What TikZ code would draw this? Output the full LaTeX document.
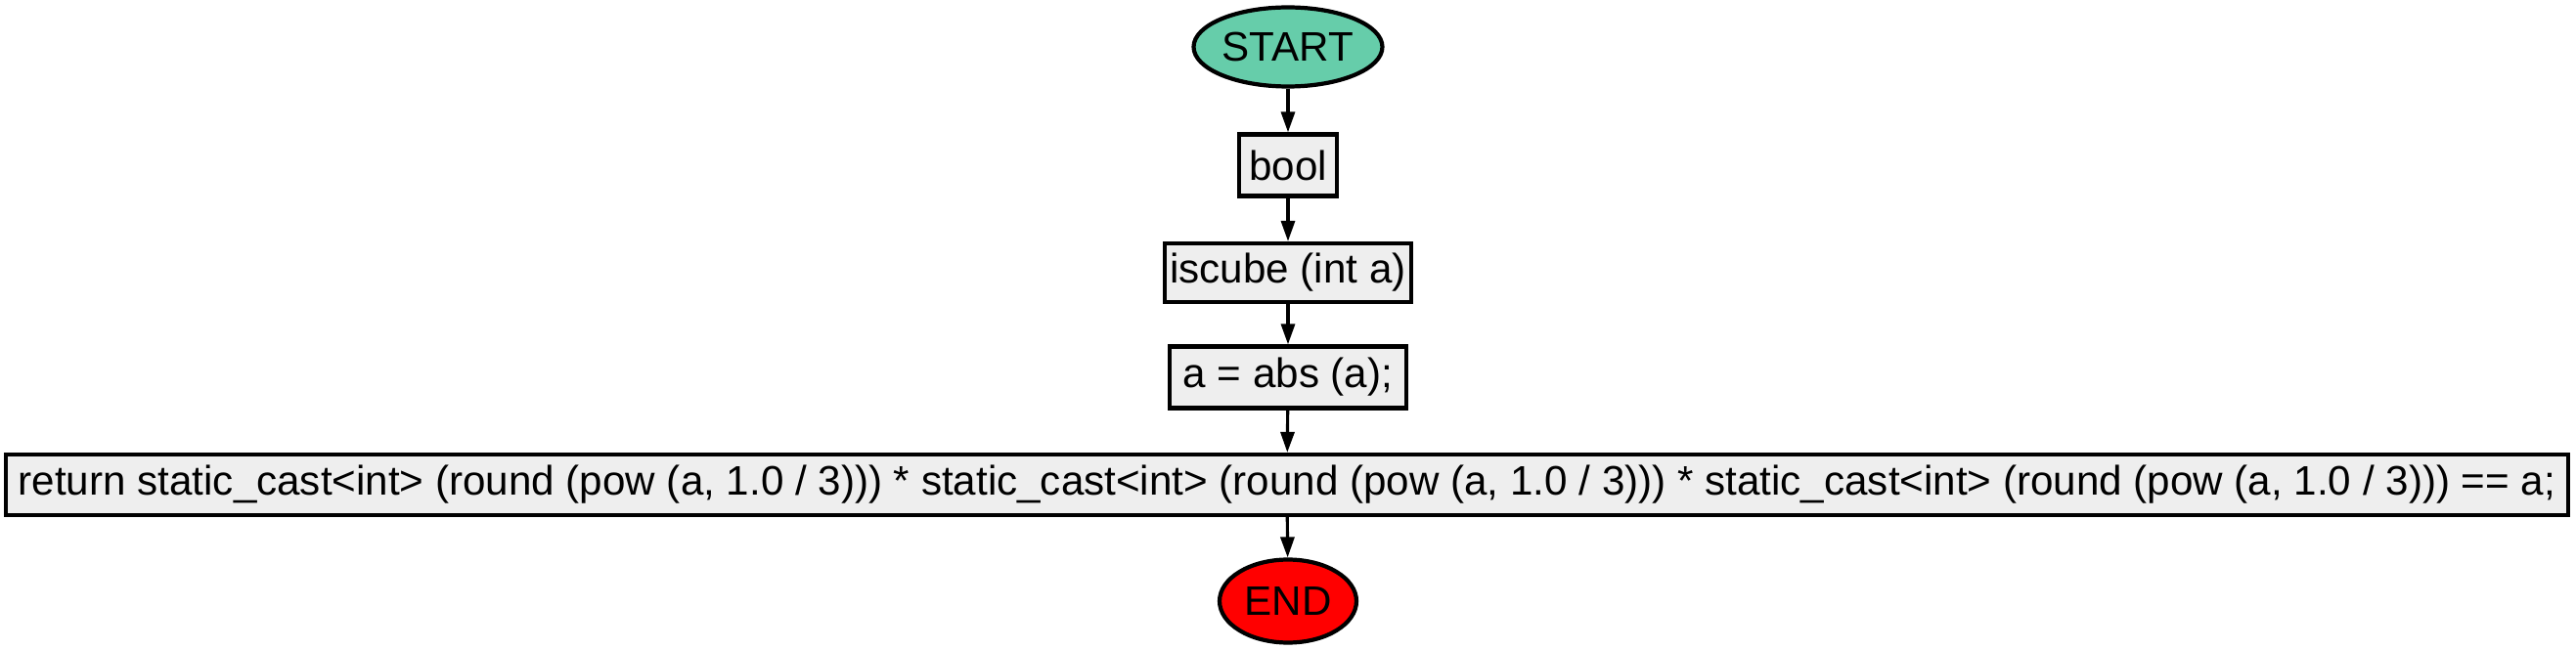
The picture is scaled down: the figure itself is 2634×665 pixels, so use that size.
\documentclass[tikz,border=0pt]{standalone}
\usepackage{fontspec}
\setmainfont{Liberation Sans}
\usetikzlibrary{arrows.meta}
\usetikzlibrary{shapes.geometric}
\definecolor{startgreen}{RGB}{102,205,170}
\definecolor{stepgray}{RGB}{238,238,238}
\tikzstyle{terminal}=[ellipse, draw, line width=2.4pt, inner sep=0pt, font=\fontsize{24}{28}\selectfont]
\tikzstyle{stmt}=[rectangle, draw, line width=2.4pt, fill=stepgray, inner sep=0pt, font=\fontsize{24}{28}\selectfont]
\tikzstyle{flow}=[line width=1.8pt, -{Triangle[length=0.42cm, width=0.28cm]}]

\begin{document}
\begin{tikzpicture}[x=0.02cm, y=-0.02cm]
  \useasboundingbox (0, 0) rectangle (2634, 665);
  \node[terminal, fill=startgreen, minimum width=3.86cm, minimum height=1.62cm]
    (start) at (1317, 48) {START};
  \node[stmt, minimum width=2.0cm, minimum height=1.26cm]
    (ret) at (1317, 169) {bool};
  \node[stmt, minimum width=5.04cm, minimum height=1.2cm]
    (sig) at (1317, 279) {iscube (int a)};
  \node[stmt, minimum width=4.84cm, minimum height=1.26cm]
    (absa) at (1317, 386) {a = abs (a);};
  \node[stmt, minimum width=52.42cm, minimum height=1.24cm]
    (cube) at (1316, 496)
    {return static\_cast<int> (round (pow (a, 1.0 / 3))) * static\_cast<int> (round (pow (a, 1.0 / 3))) * static\_cast<int> (round (pow (a, 1.0 / 3))) == a;};
  \node[terminal, fill=red, minimum width=2.8cm, minimum height=1.7cm]
    (finish) at (1317, 615) {END};
  \draw[flow] (start) -- (ret);
  \draw[flow] (ret) -- (sig);
  \draw[flow] (sig) -- (absa);
  \draw[flow] (absa) -- (cube);
  \draw[flow] (cube) -- (finish);
\end{tikzpicture}
\end{document}
